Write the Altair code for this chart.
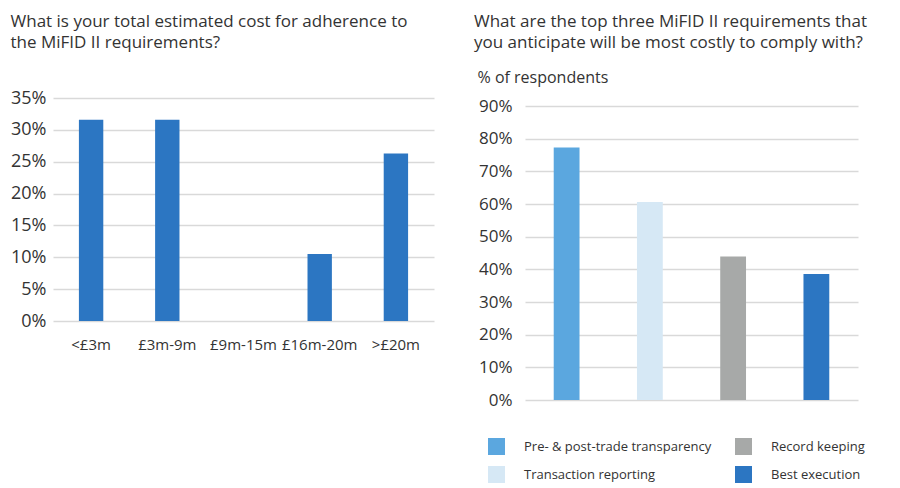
import altair as alt
import pandas as pd

# ---- data ----
cost_bands = ["<£3m", "£3m-9m", "£9m-15m", "£16m-20m", ">£20m"]
cost_share = [31.6, 31.6, 0.0, 10.5, 26.3]

requirements = ["Pre- & post-trade transparency", "Transaction reporting",
                "Record keeping", "Best execution"]
requirement_share = [77.3, 60.6, 43.9, 38.6]
requirement_colors = ["#5BA7DF", "#D6E8F5", "#A7A9A8", "#2C76C2"]

left_title = ["What is your total estimated cost for adherence to",
              "the MiFID II requirements?"]
right_title = ["What are the top three MiFID II requirements that",
               "you anticipate will be most costly to comply with?"]
right_axis_title = "% of respondents"

FONT = "Open Sans"
TEXT = "#333333"
GRID = "#D9D9D9"
BAR = "#2C76C2"

left_df = pd.DataFrame({"band": cost_bands, "share": [v / 100 for v in cost_share]})
right_df = pd.DataFrame({"req": requirements, "share": [v / 100 for v in requirement_share]})

left = alt.Chart(
    left_df,
    title=alt.Title(left_title, anchor="start", fontSize=17, font=FONT,
                    fontWeight="normal", color=TEXT, lineHeight=21, offset=37),
).mark_bar(color=BAR).encode(
    x=alt.X("band:N", sort=cost_bands,
            scale=alt.Scale(paddingInner=0.68, paddingOuter=0.34),
            axis=alt.Axis(title=None, labelAngle=0, labelFontSize=15, labelFont=FONT,
                          labelColor=TEXT, labelPadding=16, ticks=False, domain=False,
                          grid=False)),
    y=alt.Y("share:Q", scale=alt.Scale(domain=[0, 0.35], nice=False),
            axis=alt.Axis(title=None, format=".0%",
                          values=[0, 0.05, 0.10, 0.15, 0.20, 0.25, 0.30, 0.35],
                          labelFontSize=18, labelFont=FONT, labelColor=TEXT,
                          labelPadding=7, ticks=False, domain=False,
                          grid=True, gridColor=GRID, gridWidth=1.5)),
).properties(width=381, height=223)

right = alt.Chart(
    right_df,
    title=alt.Title(right_title, anchor="start", fontSize=17, font=FONT,
                    fontWeight="normal", color=TEXT, lineHeight=21, offset=17, dx=-3),
).mark_bar().encode(
    x=alt.X("req:N", sort=requirements,
            scale=alt.Scale(paddingInner=0.69, paddingOuter=0.345),
            axis=alt.Axis(title=None, labels=False, ticks=False, domain=False, grid=False)),
    y=alt.Y("share:Q", scale=alt.Scale(domain=[0, 0.9245], nice=False),
            axis=alt.Axis(title=right_axis_title, titleAngle=0, titleAlign="left",
                          titleBaseline="alphabetic", titleX=-48, titleY=-16,
                          titleFontSize=16, titleFont=FONT, titleFontWeight="normal",
                          titleColor=TEXT, format=".0%",
                          values=[0, 0.1, 0.2, 0.3, 0.4, 0.5, 0.6, 0.7, 0.8, 0.9],
                          labelFontSize=17, labelFont=FONT, labelColor=TEXT,
                          labelPadding=13, ticks=False, domain=False,
                          grid=True, gridColor=GRID, gridWidth=1.5)),
    color=alt.Color("req:N",
                    scale=alt.Scale(domain=requirements, range=requirement_colors),
                    legend=alt.Legend(title=None, orient="none", legendX=-37, legendY=340,
                                      columns=2, columnPadding=23, rowPadding=11,
                                      symbolType="square", symbolSize=289,
                                      symbolStrokeWidth=0, labelFontSize=13,
                                      labelFont=FONT, labelColor=TEXT, labelOffset=19,
                                      labelLimit=300)),
).properties(width=333, height=302)

chart = alt.hconcat(left, right, spacing=40).resolve_legend(
    color="independent"
).properties(
    padding={"left": 2, "top": 5, "right": 0, "bottom": 0},
    background="white",
).configure_view(stroke=None)

chart.save("out.html", embed_options={"renderer": "svg", "actions": False})
